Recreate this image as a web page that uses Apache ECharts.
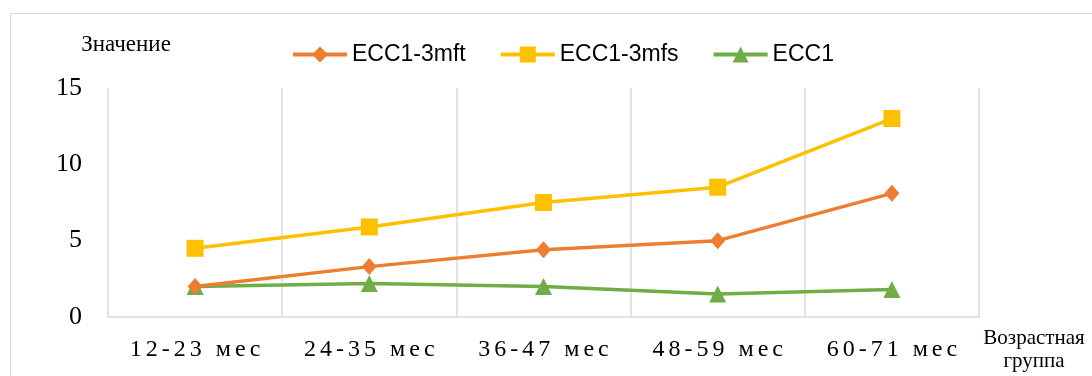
<!DOCTYPE html>
<html><head><meta charset="utf-8">
<script src="https://cdn.jsdelivr.net/npm/echarts@6/dist/echarts.min.js"></script>
<style>html,body{margin:0;padding:0;background:#fff}#c{width:1092px;height:376px}</style>
</head><body><div id="c"></div>
<script>
const categories = ['12-23 мес', '24-35 мес', '36-47 мес', '48-59 мес', '60-71 мес'];
const seriesNames = ['ECC1-3mft', 'ECC1-3mfs', 'ECC1'];
const valuesMft = [2.0, 3.3, 4.4, 5.0, 8.1];
const valuesMfs = [4.5, 5.9, 7.5, 8.5, 13.0];
const valuesEcc1 = [2.0, 2.2, 2.0, 1.5, 1.8];
const yMin = 0, yMax = 15, yInterval = 5;
const yAxisTitle = 'Значение';
const xAxisTitle = 'Возрастная\nгруппа';

const colors = ['#ED7D31', '#FFC000', '#70AD47'];
const symbols = ['diamond', 'rect', 'triangle'];
const symbolSizes = [[15, 17], 17, 17];
const seriesData = [valuesMft, valuesMfs, valuesEcc1];
const SERIF = 'Liberation Serif';
const SANS = 'Liberation Sans';
const LABEL_SPACING = 4;

// widen letter spacing of the category labels, as in the reference
const origFillText = CanvasRenderingContext2D.prototype.fillText;
CanvasRenderingContext2D.prototype.fillText = function (text, x, y, mw) {
  if (categories.includes(text)) {
    const chars = Array.from(text);
    const widths = chars.map(c => this.measureText(c).width);
    const total = widths.reduce((a, b) => a + b, 0) + LABEL_SPACING * (chars.length - 1);
    const align = this.textAlign;
    let sx = x;
    if (align === 'center') sx = x - total / 2;
    else if (align === 'right' || align === 'end') sx = x - total;
    this.textAlign = 'left';
    chars.forEach((c, i) => {
      origFillText.call(this, c, sx, y);
      sx += widths[i] + LABEL_SPACING;
    });
    this.textAlign = align;
    return;
  }
  return mw === undefined ? origFillText.call(this, text, x, y) : origFillText.call(this, text, x, y, mw);
};

const chart = echarts.init(document.getElementById('c'), null, {renderer: 'canvas'});
chart.setOption({
  animation: false,
  color: colors,
  graphic: [{
    type: 'rect', silent: true, z: -10,
    shape: {x: 10.5, y: 13.5, width: 1200, height: 500},
    style: {fill: 'none', stroke: '#d9d9d9', lineWidth: 1}
  }],
  legend: {
    left: 286, top: 38,
    itemWidth: 54, itemHeight: 20, itemGap: 33,
    lineStyle: {width: 4},
    textStyle: {fontFamily: SANS, fontSize: 23, color: '#000'},
    data: seriesNames
  },
  grid: {left: 108, right: 113, top: 88, bottom: 59, containLabel: false},
  xAxis: {
    type: 'category', data: categories, boundaryGap: true,
    name: xAxisTitle, nameLocation: 'end', nameGap: 55,
    nameTextStyle: {fontFamily: SERIF, fontSize: 21, color: '#000', align: 'center', verticalAlign: 'top', lineHeight: 23, padding: [10, 0, 0, 0]},
    axisLine: {lineStyle: {color: '#d9d9d9', width: 1.5}},
    axisTick: {show: false},
    axisLabel: {fontFamily: SERIF, fontSize: 24, color: '#000', margin: 21, interval: 0},
    splitLine: {show: true, interval: 0, lineStyle: {color: '#d9d9d9', width: 1.5}}
  },
  yAxis: {
    type: 'value', min: yMin, max: yMax, interval: yInterval,
    name: yAxisTitle, nameLocation: 'end', nameGap: 32,
    nameTextStyle: {fontFamily: SERIF, fontSize: 23, color: '#000', align: 'center', padding: [0, 0, 0, 36]},
    axisLine: {show: false}, axisTick: {show: false},
    splitLine: {show: false},
    axisLabel: {fontFamily: SERIF, fontSize: 26, color: '#000', margin: 26}
  },
  series: seriesNames.map((n, i) => ({
    name: n, type: 'line', data: seriesData[i],
    symbol: symbols[i], symbolSize: symbolSizes[i], showSymbol: true,
    lineStyle: {width: 3.5, color: colors[i]},
    itemStyle: {color: colors[i]},
    z: 3 - i
  }))
});
</script></body></html>
